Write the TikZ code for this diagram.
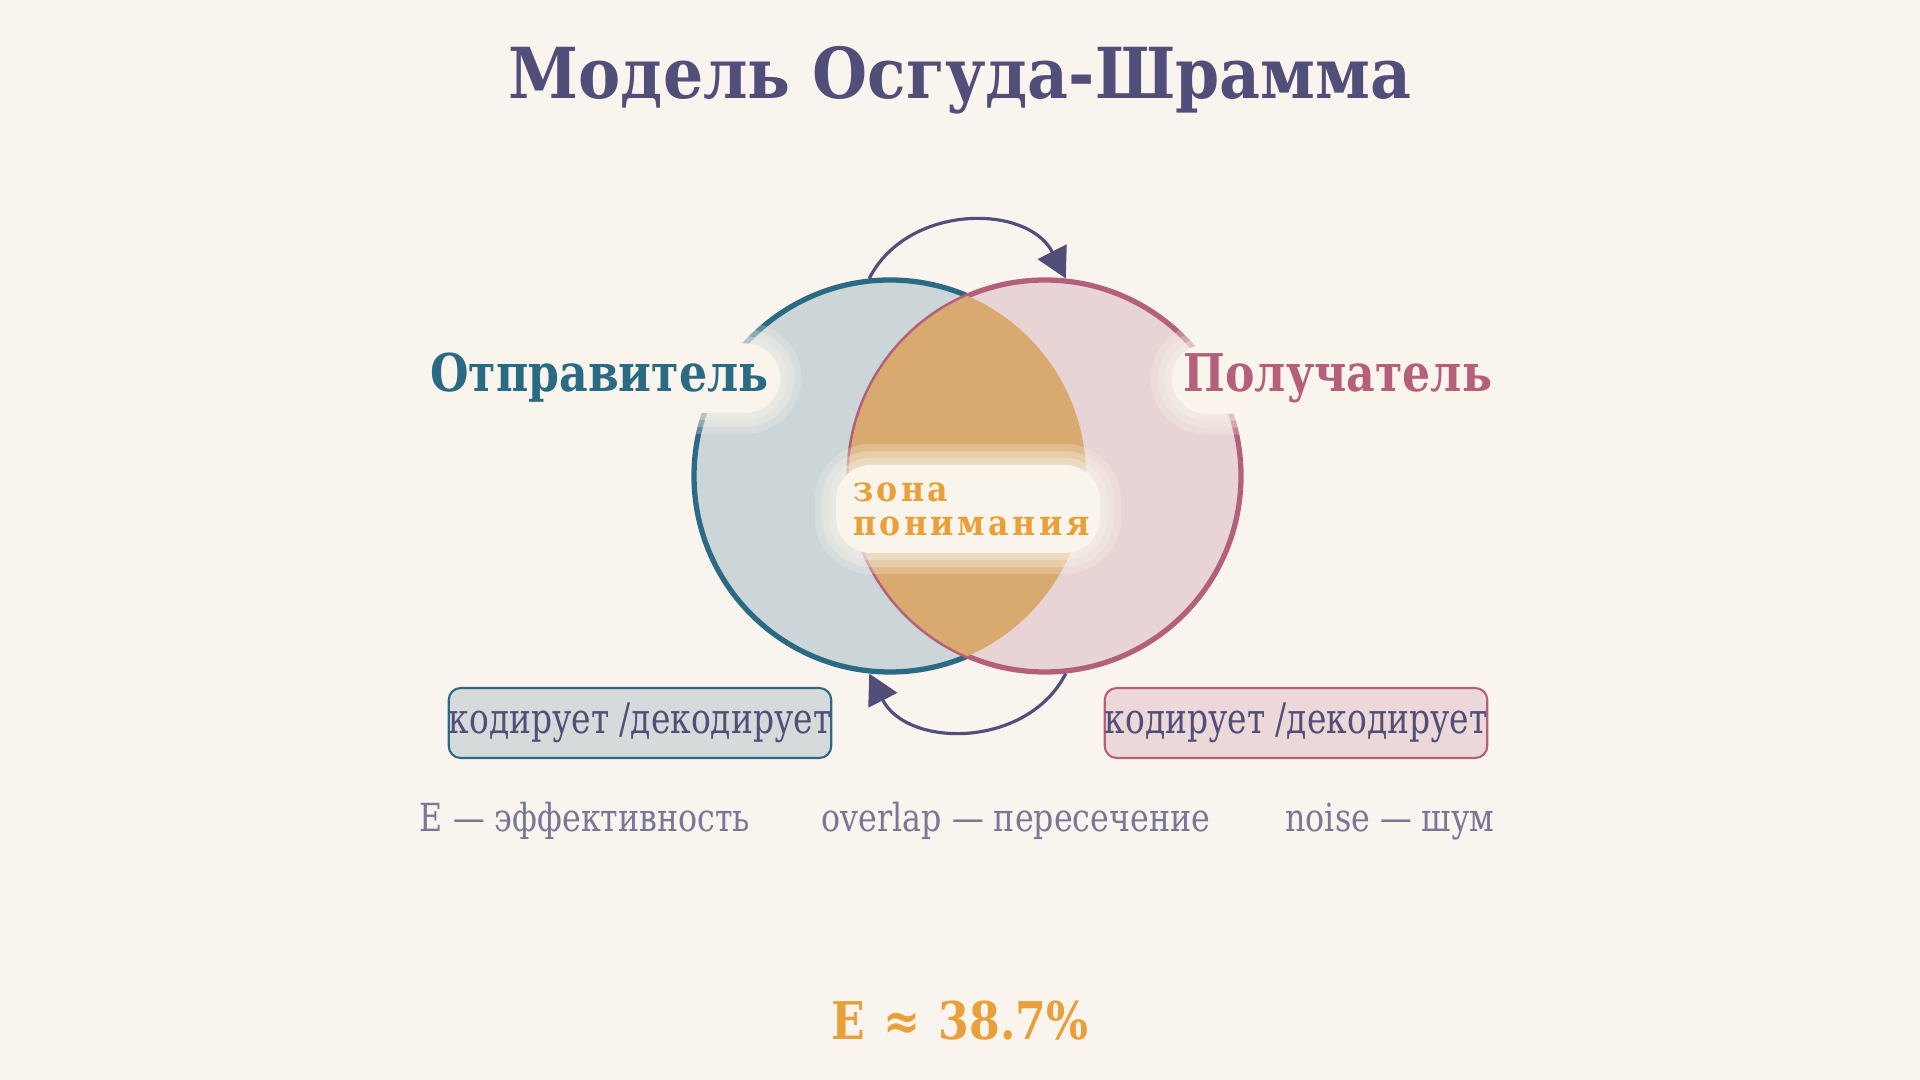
\documentclass[tikz,border=0pt]{standalone}
\usepackage{fontspec}
\setmainfont{DejaVu Serif}
\newfontfamily\headfont{DejaVu Serif}[FakeStretch=0.9]
\newfontfamily\tagfont{DejaVu Serif}[FakeStretch=0.85]
\newfontfamily\narrowfont{DejaVu Serif}[FakeStretch=0.78]
\newfontfamily\notefont{DejaVu Serif}[FakeStretch=0.82]
\usetikzlibrary{arrows.meta}
\usetikzlibrary{positioning}

\definecolor{paper}{HTML}{FAF4EE}
\definecolor{ink}{HTML}{524E7A}
\definecolor{inklight}{HTML}{7A7696}
\definecolor{sendcol}{HTML}{2A6A82}
\definecolor{recvcol}{HTML}{B5607A}
\definecolor{sendfill}{HTML}{CCD6D8}
\definecolor{recvfill}{HTML}{E8D4D4}
\definecolor{sendbox}{HTML}{D5DBDB}
\definecolor{recvbox}{HTML}{ECD8D8}
\definecolor{lensfill}{HTML}{D9AA70}
\definecolor{accent}{HTML}{E9A03A}
\definecolor{haze}{HTML}{F9F5EC}

\tikzset{
  disc/.style={circle, minimum size=3.92cm, line width=1.5pt, inner sep=0pt},
  flow/.style={draw=ink, line width=0.9pt, -{Triangle[length=0.30cm,width=0.32cm]}},
  halo/.style={fill=haze, rounded corners=0.35cm,
    preaction={draw=haze, draw opacity=0.25, line width=12pt},
    preaction={draw=haze, draw opacity=0.3, line width=8pt},
    preaction={draw=haze, draw opacity=0.35, line width=4pt}},
  codebox/.style={rounded corners=0.12cm, line width=0.6pt, minimum width=3.78cm, minimum height=0.70cm, inner sep=0pt, text=ink, font=\narrowfont\fontsize{12}{14}\selectfont},
  legend/.style={text=inklight, font=\notefont\fontsize{11}{13}\selectfont, anchor=base},
  tag/.style={halo, font=\tagfont\bfseries\fontsize{14.8}{18}\selectfont, inner xsep=0.12cm, inner ysep=0.1cm},
}

\begin{document}
\begin{tikzpicture}
\fill[paper] (0,0) rectangle (19.2,10.8);
\node[font=\headfont\bfseries\fontsize{20}{24}\selectfont, text=ink, anchor=base] (title) at (9.6,9.81) {Модель Осгуда-Шрамма};

% circles and their overlap
\node[disc, draw=sendcol, fill=sendfill] (sender) at (8.90,6.04) {};
\node[disc, draw=recvcol, fill=recvfill] (receiver) at (10.45,6.04) {};
\begin{scope}
\clip (sender.center) circle (1.96);
\fill[lensfill] (receiver.center) circle (1.96);
\end{scope}

\node[tag, text=sendcol, anchor=base east] (sendlabel) at (7.81,6.88) {Отправитель};
\node[tag, text=recvcol, anchor=base west] (recvlabel) at (11.71,6.88) {Получатель};
\node[halo, text=accent, font=\headfont\bfseries\fontsize{10}{9.7}\selectfont\addfontfeature{LetterSpace=10}, align=left, text width=2.30cm, inner xsep=0.17cm, minimum height=0.88cm] (zone) at (9.68,5.71) {зона\\понимания};

% feedback arcs
\draw[flow] (sender.96) to[out=63,in=117,looseness=1.1] (receiver.84);
\draw[flow] (receiver.-84) to[out=-117,in=-63,looseness=1.1] (sender.264);

\node[codebox, draw=sendcol, fill=sendbox] (sendcode) at (6.40,3.57) {кодирует /декодирует};
\node[codebox, draw=recvcol, fill=recvbox] (recvcode) at (12.96,3.57) {кодирует /декодирует};

\node[legend] (effleg) at (5.85,2.48) {E — эффективность};
\node[legend] (overleg) at (10.16,2.48) {overlap — пересечение};
\node[legend] (noiseleg) at (13.90,2.48) {noise — шум};

\node[font=\tagfont\bfseries\fontsize{14.8}{18}\selectfont, text=accent, anchor=base] (result) at (9.6,0.40) {E\hspace{0.35em}≈\hspace{0.35em}38.7\%};
\end{tikzpicture}
\end{document}
